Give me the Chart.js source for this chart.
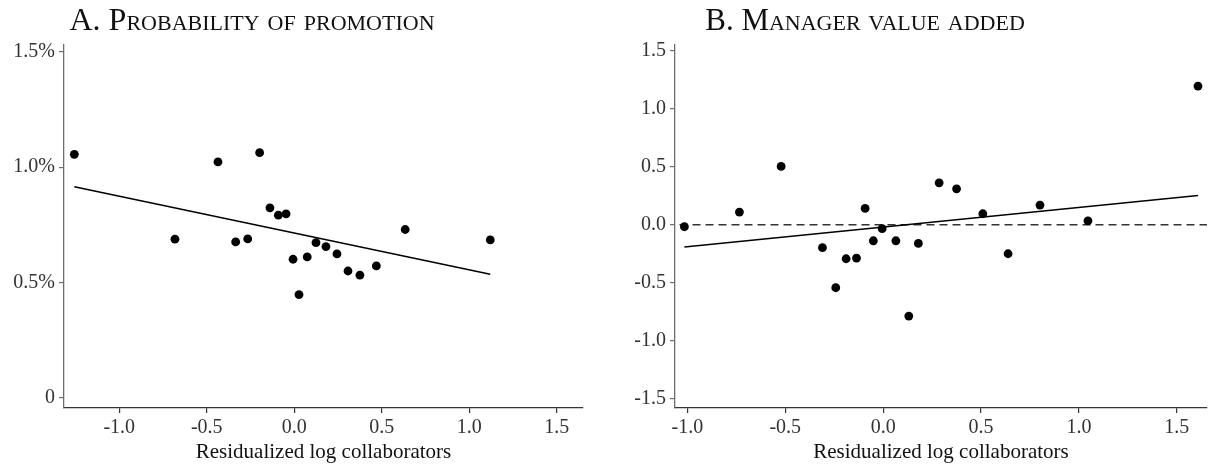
<!DOCTYPE html>
<html>
<head>
<meta charset="utf-8">
<script src="https://cdn.jsdelivr.net/npm/chart.js@4.4.1/dist/chart.umd.min.js"></script>
<style>
  body { margin: 0; background: #fff; }
  .panel { position: absolute; top: 0; height: 469px; }
</style>
</head>
<body>
<div class="panel" style="left:0;width:600px"><canvas id="chartA"></canvas></div>
<div class="panel" style="left:600px;width:614px"><canvas id="chartB"></canvas></div>
<script>
// A. probability of promotion (%), binned scatter
const collabA = [-1.257, -0.682, -0.436, -0.335, -0.266, -0.198, -0.139, -0.091, -0.047, -0.007,
                 0.027, 0.074, 0.124, 0.181, 0.244, 0.307, 0.375, 0.469, 0.634, 1.12];
const promoA  = [1.056, 0.688, 1.023, 0.676, 0.689, 1.063, 0.824, 0.792, 0.798, 0.601,
                 0.448, 0.611, 0.673, 0.656, 0.624, 0.550, 0.532, 0.572, 0.730, 0.685];
const fitXA = [-1.257, 1.12];
const fitYA = [0.915, 0.536];

// B. manager value added
const collabB = [-1.015, -0.734, -0.521, -0.310, -0.242, -0.189, -0.136, -0.092, -0.050, -0.005,
                 0.065, 0.131, 0.180, 0.286, 0.375, 0.509, 0.638, 0.801, 1.046, 1.608];
const vaB     = [-0.017, 0.109, 0.503, -0.198, -0.543, -0.293, -0.287, 0.141, -0.138, -0.034,
                 -0.138, -0.787, -0.161, 0.362, 0.310, 0.095, -0.250, 0.170, 0.034, 1.196];
const fitXB = [-1.015, 1.608];
const fitYB = [-0.192, 0.253];
const zeroXB = [-1.04, 1.654];
const zeroYB = [0, 0];

const xTicks = [-1.0, -0.5, 0.0, 0.5, 1.0, 1.5];
const yTicksA = [0, 0.5, 1.0, 1.5];
const yTicksB = [-1.5, -1.0, -0.5, 0.0, 0.5, 1.0, 1.5];

const titleA = 'A. Probability of promotion';
const titleB = 'B. Manager value added';
const xTitle = 'Residualized log collaborators';

const serif = '"Liberation Serif", "DejaVu Serif", serif';

function pts(xs, ys) { return xs.map((x, i) => ({ x: x, y: ys[i] })); }

// small caps title drawn onto the canvas
const panelTitle = {
  id: 'panelTitle',
  afterDraw(chart, args, opts) {
    const ctx = chart.ctx;
    ctx.save();
    ctx.font = 'small-caps 400 ' + opts.size + 'px ' + serif;
    ctx.fillStyle = '#111';
    ctx.textAlign = 'center';
    ctx.textBaseline = 'alphabetic';
    ctx.fillText(opts.text, opts.x, opts.y);
    ctx.restore();
  }
};

function axisStyle(color) {
  return {
    grid: { display: true, drawOnChartArea: false, drawTicks: true, tickLength: 5, color: color, lineWidth: 1.2 },
    border: { display: true, color: color, width: 1.3 }
  };
}

function makeChart(id, cfg) {
  return new Chart(document.getElementById(id), {
    type: 'scatter',
    data: { datasets: cfg.datasets },
    options: {
      responsive: true,
      maintainAspectRatio: false,
      animation: false,
      layout: { padding: { top: 45, right: cfg.padRight, left: 0, bottom: 0 } },
      plugins: {
        legend: { display: false },
        tooltip: { enabled: false },
        panelTitle: { text: cfg.title, x: cfg.titleX, y: 30, size: cfg.titleSize }
      },
      scales: {
        x: Object.assign({
          type: 'linear',
          min: cfg.xMin, max: cfg.xMax,
          afterBuildTicks: s => { s.ticks = xTicks.map(v => ({ value: v })); },
          afterFit: s => { s.height = 61; },
          ticks: {
            color: '#333', padding: 3, maxRotation: 0,
            font: { family: serif, size: 20 },
            callback: v => v.toFixed(1)
          },
          title: {
            display: true, text: xTitle, color: '#111',
            font: { family: serif, size: 21 },
            padding: { top: 0, bottom: 4 }
          }
        }, axisStyle('#333')),
        y: Object.assign({
          type: 'linear',
          min: cfg.yMin, max: cfg.yMax,
          afterBuildTicks: s => { s.ticks = cfg.yTicks.map(v => ({ value: v })); },
          afterFit: s => { s.width = cfg.yWidth; },
          ticks: {
            color: '#333', padding: 4,
            font: { family: serif, size: 20 },
            callback: cfg.yLabel
          }
        }, axisStyle('#6e6e6e'))
      }
    },
    plugins: [panelTitle]
  });
}

const dots = (xs, ys) => ({
  data: pts(xs, ys), pointRadius: 4.4, pointBackgroundColor: '#000',
  pointBorderWidth: 0, showLine: false, order: 0
});
const line = (xs, ys, dash, color) => ({
  data: pts(xs, ys), showLine: true, pointRadius: 0, borderColor: color,
  borderWidth: 1.5, borderDash: dash, fill: false, order: 1
});

makeChart('chartA', {
  title: titleA, titleX: 252, titleSize: 32, padRight: 17, yWidth: 64,
  xMin: -1.316, xMax: 1.65, yMin: -0.044, yMax: 1.53,
  yTicks: yTicksA,
  yLabel: v => v === 0 ? '0' : v.toFixed(1) + '%',
  datasets: [dots(collabA, promoA), line(fitXA, fitYA, [], '#000')]
});

makeChart('chartB', {
  title: titleB, titleX: 265, titleSize: 31, padRight: 7, yWidth: 75,
  xMin: -1.063, xMax: 1.654, yMin: -1.58, yMax: 1.55,
  yTicks: yTicksB,
  yLabel: v => v.toFixed(1),
  datasets: [dots(collabB, vaB), line(fitXB, fitYB, [], '#000'), line(zeroXB, zeroYB, [8, 5], '#333')]
});
</script>
</body>
</html>
